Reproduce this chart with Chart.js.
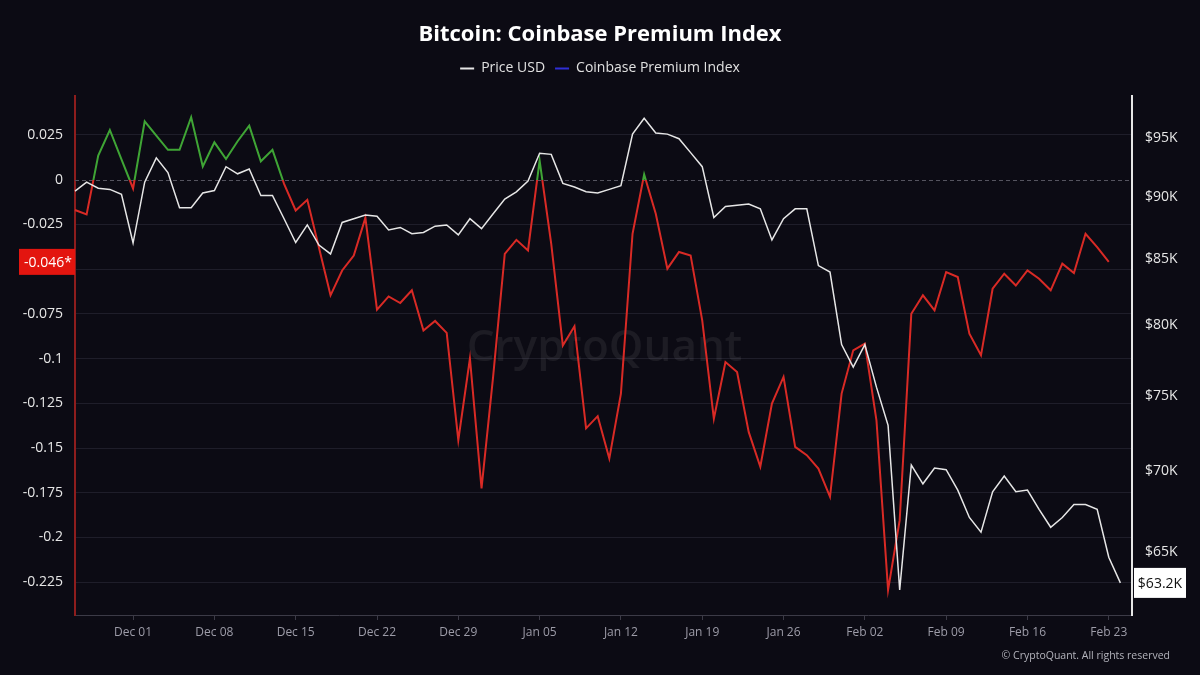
<!DOCTYPE html>
<html>
<head>
<meta charset="utf-8">
<script src="https://cdn.jsdelivr.net/npm/chart.js@4.4.1/dist/chart.umd.min.js"></script>
<style>
    html, body { margin: 0; padding: 0; background: #0c0b14; }
    #wrap { width: 1200px; height: 675px; }
</style>
</head>
<body>
<div id="wrap"><canvas id="chart" width="1200" height="675"></canvas></div>
<script>
const monthNames = ['Jan', 'Feb', 'Mar', 'Apr', 'May', 'Jun', 'Jul', 'Aug', 'Sep', 'Oct', 'Nov', 'Dec'];
const firstDay = Date.UTC(2025, 10, 26);
const dayCount = 92;

// daily categories, Nov 26 .. Feb 25
const categories = [];
for (let i = 0; i < dayCount; i++) {
    const d = new Date(firstDay + i * 86400000);
    categories.push(monthNames[d.getUTCMonth()] + ' ' + String(d.getUTCDate()).padStart(2, '0'));
}

const tickLabels = ['Dec 01', 'Dec 08', 'Dec 15', 'Dec 22', 'Dec 29', 'Jan 05', 'Jan 12',
    'Jan 19', 'Jan 26', 'Feb 02', 'Feb 09', 'Feb 16', 'Feb 23'];

const priceUsd = [
    90450, 91200, 90700, 90600, 90200, 86260, 91200, 93250, 92000, 89100,
    89100, 90300, 90500, 92500, 91900, 92300, 90100, 90100, 88200, 86300,
    87700, 86100, 85400, 87900, 88200, 88500, 88400, 87300, 87500, 87000,
    87100, 87600, 87700, 86900, 88200, 87400, 88600, 89800, 90400, 91300,
    93650, 93550, 91100, 90800, 90400, 90300, 90600, 90900, 95300, 96700,
    95400, 95300, 94900, 93700, 92500, 88300, 89200, 89300, 89400, 89000,
    86500, 88200, 89000, 89000, 84500, 84000, 78600, 77000, 78600, 75600,
    73000, 62800, 70400, 69200, 70200, 70100, 68800, 67100, 66200, 68700,
    69700, 68700, 68800, 67600, 66500, 67100, 67900, 67900, 67600, 64700,
    63200,
];

const premiumIndex = [
    -0.017, -0.0195, 0.0134, 0.0277, 0.0113, -0.005, 0.0325, 0.0245, 0.0166, 0.0166,
    0.0348, 0.0073, 0.0208, 0.0115, 0.0214, 0.0301, 0.0102, 0.0166, -0.0024, -0.0173,
    -0.0113, -0.038, -0.0647, -0.0508, -0.0425, -0.0214, -0.0727, -0.0653, -0.069, -0.0619,
    -0.0843, -0.079, -0.0857, -0.1456, -0.1, -0.1726, -0.11, -0.0415, -0.0337, -0.0396,
    0.0106, -0.036, -0.0927, -0.082, -0.139, -0.1322, -0.1559, -0.1196, -0.0303, 0.0028,
    -0.0191, -0.0498, -0.0405, -0.0424, -0.0787, -0.1336, -0.102, -0.1075, -0.141, -0.1605,
    -0.1252, -0.1103, -0.1494, -0.154, -0.1615, -0.1773, -0.1196, -0.0954, -0.0917, -0.1345,
    -0.2293, -0.1903, -0.075, -0.0647, -0.0731, -0.0517, -0.0545, -0.0861, -0.0982, -0.061,
    -0.0526, -0.0592, -0.0508, -0.0554, -0.0619, -0.047, -0.0523, -0.0303, -0.0378, -0.046,
];

const priceTicks = [65000, 70000, 75000, 80000, 85000, 90000, 95000];
const legendColors = ['#e6e6e6', '#2f2fd6'];

const green = '#3fa535';
const red = '#d92a25';

function premiumColor(context) {
    const chart = context.chart;
    const area = chart.chartArea;
    if (!area) {
        return red;
    }
    const y0 = chart.scales.y.getPixelForValue(0);
    const stop = Math.min(Math.max((y0 - area.top) / (area.bottom - area.top), 0), 1);
    const g = chart.ctx.createLinearGradient(0, area.top, 0, area.bottom);
    g.addColorStop(0, green);
    g.addColorStop(stop, green);
    g.addColorStop(stop, red);
    g.addColorStop(1, red);
    return g;
}

const overlay = {
    id: 'overlay',
    beforeDatasetsDraw(chart) {
        const {ctx, chartArea, scales} = chart;
        ctx.save();
        // watermark
        ctx.fillStyle = 'rgba(255, 255, 255, 0.07)';
        ctx.font = '600 44px "Open Sans", sans-serif';
        ctx.textAlign = 'center';
        ctx.textBaseline = 'middle';
        ctx.fillText('CryptoQuant', (chartArea.left + chartArea.right) / 2 + 1, 348);
        // zero line
        const y0 = Math.round(scales.y.getPixelForValue(0)) + 0.5;
        ctx.strokeStyle = '#55545f';
        ctx.lineWidth = 1;
        ctx.setLineDash([4, 3]);
        ctx.beginPath();
        ctx.moveTo(chartArea.left, y0);
        ctx.lineTo(chartArea.right, y0);
        ctx.stroke();
        ctx.restore();
    },
    afterDraw(chart) {
        const {ctx, chartArea, scales} = chart;
        ctx.save();
        ctx.font = '14px "Open Sans", sans-serif';
        ctx.textBaseline = 'middle';

        const lastPremium = premiumIndex[premiumIndex.length - 1];
        const yp = scales.y.getPixelForValue(lastPremium);
        ctx.fillStyle = '#e3150f';
        ctx.fillRect(19, yp - 13, chartArea.left - 19, 26);
        ctx.fillStyle = '#ffffff';
        ctx.textAlign = 'right';
        ctx.fillText(lastPremium.toFixed(3) + '*', chartArea.left - 3, yp + 1);

        const lastPrice = priceUsd[priceUsd.length - 1];
        const yr = scales.y1.getPixelForValue(lastPrice);
        ctx.fillStyle = '#ffffff';
        ctx.fillRect(chartArea.right + 2, yr - 15, 52, 30);
        ctx.fillStyle = '#111111';
        ctx.textAlign = 'center';
        ctx.fillText('$' + (lastPrice / 1000).toFixed(1) + 'K', chartArea.right + 28, yr + 1);

        ctx.fillStyle = '#b4b4bc';
        ctx.font = '10.5px "Open Sans", sans-serif';
        ctx.textAlign = 'right';
        ctx.fillText('© CryptoQuant. All rights reserved', 1170, 656);
        ctx.restore();
    },
};

Chart.defaults.font.family = '"Open Sans", sans-serif';

new Chart(document.getElementById('chart').getContext('2d'), {
    type: 'line',
    data: {
        labels: categories,
        datasets: [
            {
                label: 'Price USD',
                data: priceUsd,
                yAxisID: 'y1',
                borderColor: '#e6e6e6',
                borderWidth: 1.5,
                pointRadius: 0,
                tension: 0,
            },
            {
                label: 'Coinbase Premium Index',
                data: premiumIndex,
                yAxisID: 'y',
                borderColor: premiumColor,
                borderWidth: 2,
                pointRadius: 0,
                tension: 0,
            },
        ],
    },
    options: {
        responsive: false,
        animation: false,
        devicePixelRatio: 1,
        layout: { padding: 0 },
        plugins: {
            title: {
                display: true,
                text: 'Bitcoin: Coinbase Premium Index',
                color: '#ffffff',
                font: { size: 22, weight: 'bold' },
                padding: { top: 22, bottom: 3 },
            },
            subtitle: {
                display: true,
                text: '',
                weight: 500,
                font: { size: 1 },
                padding: { top: 9, bottom: 0 },
            },
            legend: {
                display: true,
                position: 'top',
                labels: {
                    color: '#e0e0e0',
                    font: { size: 14 },
                    usePointStyle: true,
                    pointStyleWidth: 14,
                    padding: 10,
                    generateLabels(chart) {
                        const items = Chart.defaults.plugins.legend.labels.generateLabels(chart);
                        items.forEach((item, i) => {
                            item.strokeStyle = legendColors[i];
                            item.fillStyle = legendColors[i];
                            item.lineWidth = 2;
                            item.pointStyle = 'line';
                        });
                        return items;
                    },
                },
            },
            tooltip: { enabled: false },
        },
        scales: {
            x: {
                afterFit: (scale) => { scale.height = 60; },
                ticks: {
                    autoSkip: false,
                    maxRotation: 0,
                    color: '#9d9ca8',
                    font: { size: 12 },
                    padding: 5,
                    callback: function (value) {
                        const label = this.getLabelForValue(value);
                        return tickLabels.includes(label) ? label : null;
                    },
                },
                grid: {
                    drawOnChartArea: false,
                    drawTicks: true,
                    tickLength: 5,
                    color: '#3c3b47',
                },
                border: { display: true, color: '#3c3b47', width: 1 },
            },
            y: {
                position: 'left',
                min: -0.2433,
                max: 0.0469,
                afterFit: (scale) => { scale.width = 75; },
                ticks: {
                    stepSize: 0.025,
                    includeBounds: false,
                    color: '#e6e6e6',
                    font: { size: 14 },
                    padding: 12,
                    callback: (v) => String(Number(v.toFixed(3))),
                },
                grid: {
                    drawTicks: false,
                    color: (ctx) => (ctx.tick && Math.abs(ctx.tick.value) < 1e-9 ? 'transparent' : '#1f1e2a'),
                },
                border: { display: true, color: '#8e1d1d', width: 2 },
            },
            y1: {
                type: 'logarithmic',
                position: 'right',
                min: 61370,
                max: 98720,
                afterFit: (scale) => { scale.width = 68; },
                afterBuildTicks: (scale) => {
                    scale.ticks = priceTicks.map((v) => ({ value: v }));
                },
                ticks: {
                    color: '#e6e6e6',
                    font: { size: 14 },
                    padding: 13,
                    callback: (v) => '$' + v / 1000 + 'K',
                },
                grid: { drawOnChartArea: false, drawTicks: false },
                border: { display: true, color: '#e6e6e6', width: 2 },
            },
        },
    },
    plugins: [overlay],
});
</script>
</body>
</html>
